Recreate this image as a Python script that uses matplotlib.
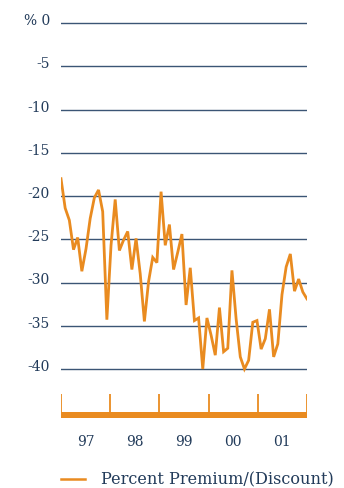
import matplotlib
matplotlib.use("Agg")
import matplotlib.pyplot as plt
from matplotlib.transforms import offset_copy
import numpy as np

# monthly premium/(discount), Jan 1997 .. Dec 2001
premium = [
    -18.0, -21.4, -22.8, -26.2, -24.8, -28.7, -26.1, -22.6, -20.2, -19.3, -21.8, -34.3,
    -25.7, -20.4, -26.3, -25.1, -24.1, -28.5, -24.9, -29.0, -34.5, -29.9, -27.1, -27.7,
    -19.5, -25.7, -23.3, -28.5, -26.5, -24.4, -32.6, -28.3, -34.4, -34.1, -40.0, -34.1,
    -36.1, -38.4, -32.9, -38.0, -37.6, -28.6, -34.2, -38.6, -40.0, -39.0, -34.6, -34.4,
    -37.7, -36.5, -33.1, -38.6, -37.1, -31.4, -28.2, -26.7, -31.0, -29.6, -31.1, -31.9,
]
y_ticks = [0, -5, -10, -15, -20, -25, -30, -35, -40]
y_labels = ["% 0", "-5", "-10", "-15", "-20", "-25", "-30", "-35", "-40"]
years = ["97", "98", "99", "00", "01"]
legend_label = "Percent Premium/(Discount)"

ORANGE = "#E98B20"
NAVY = "#223B5A"
GRID = "#3B5575"
FONT = "DejaVu Serif"

W, H = 344, 489
fig = plt.figure(figsize=(W / 100, H / 100), dpi=100)


def px(x0, y0, x1, y1):
    # pixel box (top-left origin) -> figure rect
    return [x0 / W, 1 - y1 / H, (x1 - x0) / W, (y1 - y0) / H]


# main plot: 0 at y=24px, -40 at y=370px
unit = (370 - 24) / 40
ax = fig.add_axes(px(61, 24 - unit, 307, 370 + unit))
ax.set_ylim(-41, 1)
months = np.arange(len(premium))
ax.set_xlim(0, len(premium) - 1)
for v in y_ticks:
    ax.axhline(v, color=GRID, lw=1.0, zorder=1)
ax.plot(months, premium, color=ORANGE, lw=2.0, zorder=3, solid_joinstyle="miter")
ax.set_xticks([])
ax.set_yticks([])
for s in ax.spines.values():
    s.set_visible(False)
ax.patch.set_alpha(0)

# y labels, right aligned, sitting a touch above each grid line
lab_tr = offset_copy(ax.get_yaxis_transform(), fig=fig, x=-11, y=3, units="dots")
for v, lab in zip(y_ticks, y_labels):
    ax.text(0, v, lab, transform=lab_tr, ha="right", va="center",
            color=NAVY, fontsize=10, family=FONT)

# bottom time axis bar with year ticks
bx = fig.add_axes(px(61, 395, 307, 419))
bx.set_xlim(0, len(years))
bx.set_ylim(0, 24)
bx.axis("off")
bx.axhspan(0, 6.5, color=ORANGE, lw=0)
bx.vlines(np.arange(len(years) + 1), 0, 24, color=ORANGE, lw=1.3)
for i, yr in enumerate(years):
    fig.text((61 + (i + 0.5) * 246 / len(years)) / W, 1 - 442 / H, yr,
             ha="center", va="center", color=NAVY, fontsize=10, family=FONT)

# legend
fig.add_artist(plt.Line2D([61 / W, 85 / W], [1 - 480 / H] * 2, color=ORANGE, lw=1.8))
fig.text(101 / W, 1 - 480 / H, legend_label, ha="left", va="center",
         color=NAVY, fontsize=11.6, family=FONT)

fig.savefig("out.png", dpi=100)
